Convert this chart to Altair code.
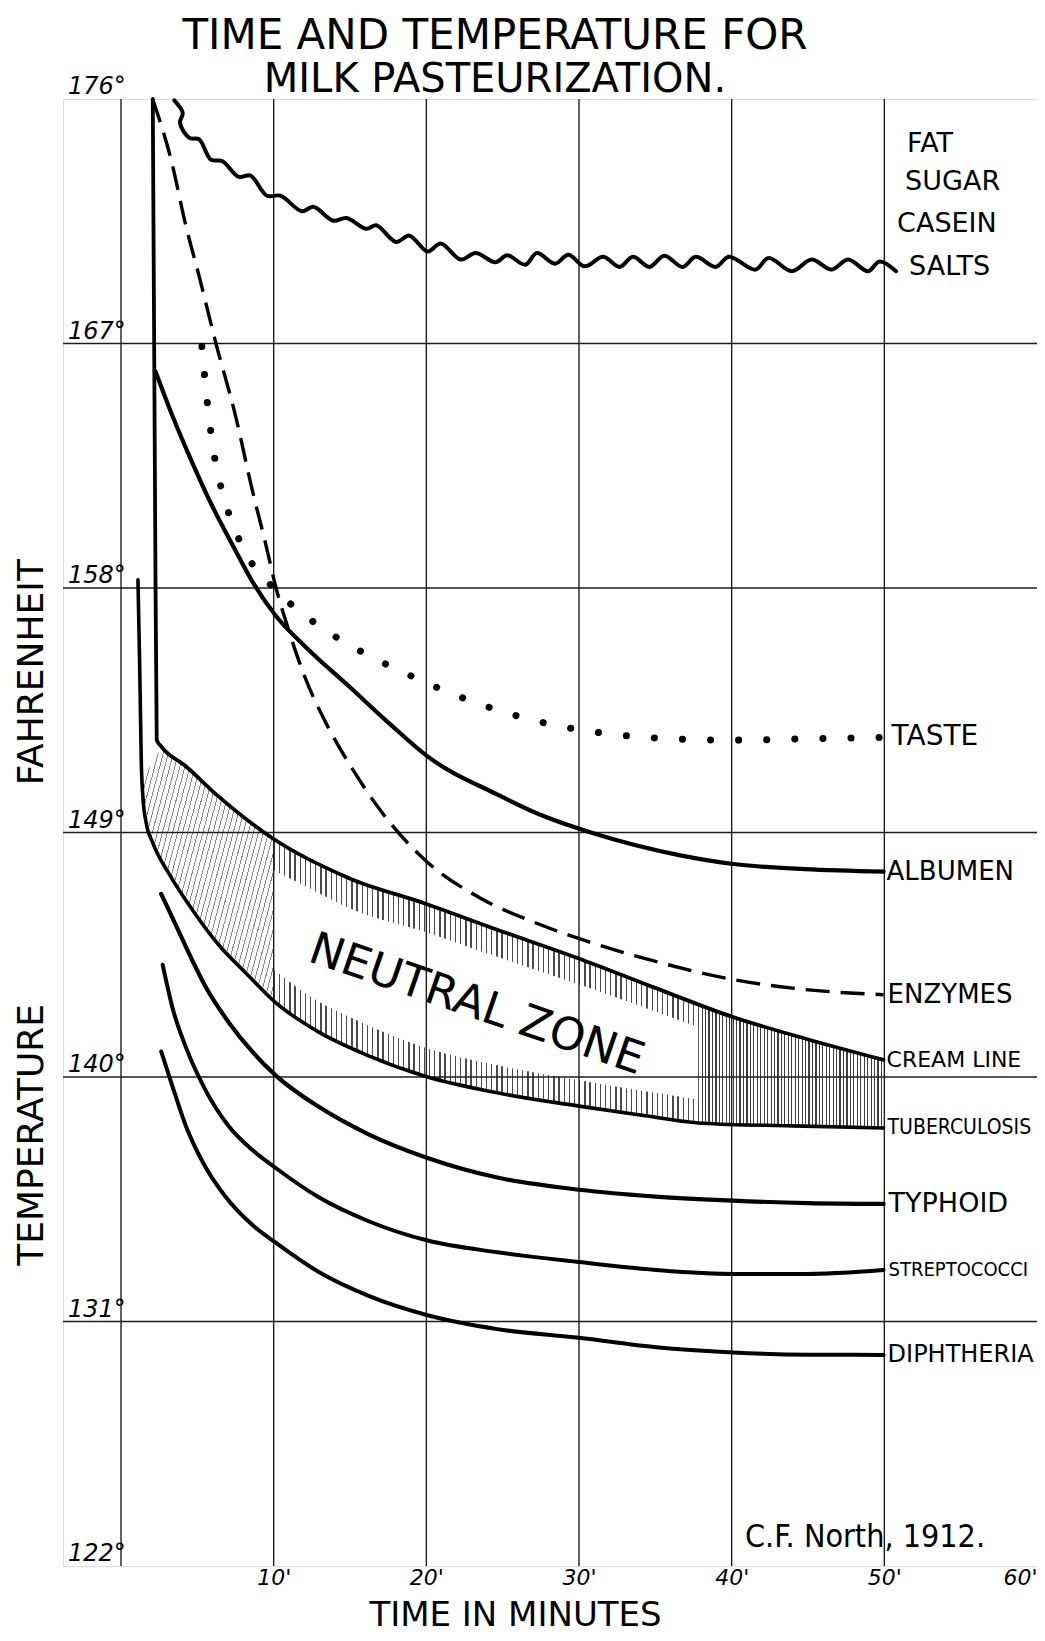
import altair as alt
import pandas as pd

# ----------------------------------------------------------------- data
X_TICKS = [10, 20, 30, 40, 50, 60]
X_GRID = [0, 10, 20, 30, 40, 50]
X_EDGE = -3.8                      # left frame of the sheet, in minutes
Y_TICKS = [122, 131, 140, 149, 158, 167, 176]
Y_GRID = [131, 140, 149, 158, 167]

# fat, sugar, casein, salts (wavy line: crests and troughs)
WAVY_MIN = [3.49, 4.04, 3.86, 4.47, 5.12, 5.88, 6.64, 7.72, 8.48, 9.56, 10.44, 11.84, 12.60, 13.90,
            14.77, 16.07, 16.72, 18.02, 18.89, 20.08, 20.95, 22.25, 23.23, 24.53, 25.29, 26.48,
            27.24, 28.43, 29.30, 30.38, 31.58, 32.66, 33.53, 34.61, 35.59, 36.78, 37.65, 38.95,
            39.82, 41.55, 42.42, 43.94, 45.24, 46.54, 47.63, 48.93, 49.69, 50.77]
WAVY_T = [175.95, 175.49, 175.12, 174.57, 174.51, 173.77, 173.71, 173.13, 173.18, 172.44, 172.44,
          171.87, 172.03, 171.52, 171.62, 171.22, 171.35, 170.74, 170.97, 170.39, 170.68, 170.09,
          170.33, 169.99, 170.25, 169.90, 170.33, 169.94, 170.27, 169.84, 170.19, 169.82, 170.19,
          169.82, 170.23, 169.82, 170.19, 169.82, 170.19, 169.72, 170.15, 169.66, 170.09, 169.72,
          170.09, 169.66, 170.02, 169.66]

TASTE_MIN = [5.30, 5.62, 6.03, 6.81, 7.51, 8.42, 9.89, 12.49, 15.64, 18.74, 22.04, 25.0, 28.0,
             31.0, 35.0, 40.0, 45.0, 49.95]
TASTE_T = [166.89, 164.99, 163.15, 161.19, 160.08, 159.04, 158.06, 156.80, 155.69, 154.83, 154.03,
           153.45, 153.0, 152.7, 152.48, 152.4, 152.45, 152.5]

ALB_MIN = [2.26, 3.38, 4.68, 5.99, 7.29, 8.59, 10.11, 12.06, 15.09, 17.70, 20.08, 24.64, 27.27,
           30.78, 36.72, 39.96, 44.8, 49.95]
ALB_T = [165.97, 164.32, 162.60, 161.00, 159.6, 158.25, 157.0, 155.85, 154.3, 152.95, 151.8,
         150.4, 149.7, 149.0, 148.15, 147.85, 147.65, 147.56]

ENZ_MIN = [2.08, 3.28, 4.26, 5.12, 6.21, 7.51, 8.59, 9.46, 10.11, 10.98, 12.06, 13.36, 15.09, 17.01,
           19.98, 23.49, 27.27, 30.78, 35.37, 39.96, 44.81, 49.95]
ENZ_T = [175.98, 173.77, 171.31, 169.47, 167.02, 164.32, 161.62, 159.66, 158.1, 156.45, 154.7,
         153.1, 151.4, 149.8, 147.95, 146.6, 145.65, 144.95, 144.2, 143.6, 143.22, 143.03]

CREAM_MIN = [2.08, 2.23, 2.34, 2.63, 4.26, 6.42, 10.0, 14.94, 19.95, 24.5, 30.24, 34.9, 39.96,
             44.9, 49.95]
CREAM_T = [176.0, 161.25, 152.41, 152.17, 151.43, 150.31, 148.76, 147.32, 146.38, 145.45, 144.31,
           143.3, 142.23, 141.4, 140.63]

TUB_MIN = [1.11, 1.22, 1.33, 1.45, 1.65, 2.08, 3.17, 4.68, 6.42, 8.16, 10.11, 12.93, 16.18, 19.98,
           24.64, 30.23, 34.0, 38.07, 44.0, 49.95]
TUB_T = [158.30, 155.24, 151.56, 150.2, 149.35, 148.62, 147.46, 146.15, 144.85, 143.84, 142.75,
         141.66, 140.79, 140.02, 139.42, 138.91, 138.6, 138.30, 138.2, 138.12]

TYP_MIN = [2.63, 3.60, 4.68, 5.56, 7.07, 8.59, 10.11, 12.93, 16.18, 20.08, 24.64, 30.01, 35.0,
           40.08, 45.0, 49.95]
TYP_T = [146.74, 145.58, 144.28, 143.3, 142.0, 140.94, 140.07, 138.91, 137.90, 137.02, 136.30,
         135.85, 135.6, 135.45, 135.36, 135.33]

STR_MIN = [2.73, 3.38, 4.26, 5.56, 7.07, 8.59, 10.11, 12.93, 16.18, 20.08, 24.64, 30.01, 35.05,
           40.08, 44.81, 49.95]
STR_T = [144.13, 142.53, 141.08, 139.49, 138.18, 137.32, 136.66, 135.58, 134.70, 133.98, 133.55,
         133.19, 132.90, 132.75, 132.75, 132.90]

DIP_MIN = [2.63, 3.38, 4.26, 5.34, 6.86, 8.59, 10.11, 12.93, 16.18, 20.08, 24.64, 30.01, 35.05,
           40.08, 45.0, 49.95]
DIP_T = [140.94, 139.64, 138.18, 136.88, 135.58, 134.56, 133.91, 132.83, 131.95, 131.23, 130.72,
         130.4, 130.05, 129.86, 129.78, 129.77]

# neutral zone (between cream line and tuberculosis)
NZ_MIN = [1.45, 1.65, 2.1, 2.63, 4.26, 6.42, 8.16, 10.0, 12.93, 14.94, 16.18, 19.98, 24.5, 30.2,
          37.8, 44.0, 50.0]
NZ_TOP = [150.6, 151.1, 151.6, 152.0, 151.43, 150.31, 149.56, 148.76, 147.9, 147.32, 147.09, 146.38,
          145.45, 144.32, 142.69, 141.58, 140.6]
NZ_BOT = [150.2, 149.35, 148.62, 148.03, 146.51, 144.85, 143.84, 142.8, 141.66, 141.12, 140.79,
          140.02, 139.45, 138.91, 138.32, 138.2, 138.12]
# unshaded middle of the zone, where the words are written
NZB_MIN = [10.0, 12.93, 14.94, 19.98, 24.5, 30.2, 37.8]
NZB_TOP = [147.61, 146.78, 146.22, 145.33, 144.45, 143.37, 141.84]
NZB_BOT = [143.95, 142.78, 142.22, 141.07, 140.45, 139.86, 139.17]

FAT_LINES = ["FAT", "SUGAR", "CASEIN", "SALTS"]

# ----------------------------------------------------------------- helpers
FONT = "DejaVu Sans"
NARROW = "Liberation Sans Narrow, DejaVu Sans Condensed, DejaVu Sans"
XS = alt.Scale(domain=[X_EDGE, 60], nice=False, zero=False)
YS = alt.Scale(domain=[122, 176], nice=False, zero=False)

XAXIS = alt.Axis(values=X_TICKS, labelExpr="datum.value + \"'\"", domain=False, ticks=False,
                 grid=False, labelFont=FONT, labelFontSize=22, labelFontStyle="italic",
                 labelColor="black", labelPadding=1, labelFlush=True, labelOverlap=False,
                 title="TIME IN MINUTES", titleFont=FONT, titleFontSize=34,
                 titleFontWeight="normal", titleColor="black", titleX=452, titleY=59,
                 titleAlign="center", titleBaseline="alphabetic")


def X(field="m"):
    return alt.X(f"{field}:Q", scale=XS, axis=XAXIS)


def Y(field="t"):
    return alt.Y(f"{field}:Q", scale=YS, axis=None)


def stripes(n, duty, dark, x2=1.0, y2=0.0):
    stops = []
    for k in range(n):
        a = round(k / n, 5)
        b = round((k + duty) / n, 5)
        c = round((k + 1) / n, 5)
        stops += [alt.GradientStop(color=dark, offset=a), alt.GradientStop(color=dark, offset=b),
                  alt.GradientStop(color="white", offset=b), alt.GradientStop(color="white", offset=c)]
    return alt.LinearGradient(gradient="linear", stops=stops, x1=0, y1=0, x2=x2, y2=y2)


nz = pd.DataFrame({"m": NZ_MIN, "top": NZ_TOP, "bot": NZ_BOT})


def band(flt, fill):
    return alt.Chart(nz).transform_filter(flt).mark_area(fill=fill, interpolate="monotone").encode(
        x=X(), y=alt.Y("top:Q", scale=YS, axis=None), y2=alt.Y2("bot"))


def curve(ms, ts, width=4.0, **kw):
    df = pd.DataFrame({"m": ms, "t": ts, "i": list(range(len(ms)))})
    opts = dict(color="black", strokeWidth=width, interpolate="monotone",
                strokeCap="round", strokeJoin="round")
    opts.update(kw)
    return alt.Chart(df).mark_line(**opts).encode(x=X(), y=Y(), order=alt.Order("i:Q"))


def end_label(s, ms, ts, size, dx=5, dy=0, font=FONT):
    df = pd.DataFrame({"m": [ms[-1]], "t": [ts[-1]], "s": [s]})
    return alt.Chart(df).mark_text(font=font, fontSize=size, align="left", baseline="middle",
                                   dx=dx, dy=dy, color="black").encode(x=X(), y=Y(), text="s:N")


# ----------------------------------------------------------------- layers
hatch_left = band("datum.m <= 10", stripes(39, 0.2, "#8a8a8a", 1.2, 0.61))
hatch_mid = band("datum.m >= 10 && datum.m <= 37.8", stripes(82, 0.26, "#4a4a4a"))
hatch_right = band("datum.m >= 37.8", stripes(54, 0.34, "#404040"))
blank = alt.Chart(pd.DataFrame({"m": NZB_MIN, "top": NZB_TOP, "bot": NZB_BOT})).mark_area(
    fill="white", interpolate="monotone").encode(
    x=X(), y=alt.Y("top:Q", scale=YS, axis=None), y2=alt.Y2("bot"))

vgrid = alt.Chart(pd.DataFrame({"m": X_GRID})).mark_rule(color="#1e1e1e", strokeWidth=1.4).encode(
    x=X())
hgrid = alt.Chart(pd.DataFrame({"t": Y_GRID})).mark_rule(color="#1e1e1e", strokeWidth=1.4).encode(
    y=Y())

wavy = curve(WAVY_MIN, WAVY_T, 4.0, interpolate="catmull-rom")
taste = curve(TASTE_MIN, TASTE_T, 7.0, strokeDash=[0.1, 28])
albumen = curve(ALB_MIN, ALB_T, 4.2)
enzymes = curve(ENZ_MIN, ENZ_T, 3.4, strokeDash=[24, 11], strokeCap="butt")
cream = curve(CREAM_MIN, CREAM_T, 3.8)
tuberc = curve(TUB_MIN, TUB_T, 3.6)
typhoid = curve(TYP_MIN, TYP_T, 4.2)
strep = curve(STR_MIN, STR_T, 4.0)
diph = curve(DIP_MIN, DIP_T, 4.0)

ylabels = alt.Chart(pd.DataFrame({"t": Y_TICKS, "s": [f"{v}°" for v in Y_TICKS]})).mark_text(
    font=FONT, fontSize=24, fontStyle="italic", align="left", baseline="alphabetic",
    dx=5, dy=-5, color="black").encode(
    x=alt.XDatum(X_EDGE, scale=XS, axis=XAXIS), y=Y(), text="s:N")

side = alt.Chart(pd.DataFrame({"t": [154.9, 137.87], "s": ["FAHRENHEIT", "TEMPERATURE"]})).mark_text(
    font=FONT, fontSize=36, angle=270, align="center", baseline="middle", color="black").encode(
    x=alt.value(-31), y=Y(), text="s:N")

fat_labels = [end_label(s, WAVY_MIN, WAVY_T, 27, dx=dx, dy=dy)
              for s, dx, dy in zip(FAT_LINES, [11, 9, 1, 13], [-127, -89, -47, -4])]

labels = [
    end_label("TASTE", TASTE_MIN, TASTE_T, 28, dx=8),
    end_label("ALBUMEN", ALB_MIN, ALB_T, 26, dx=3),
    end_label("ENZYMES", ENZ_MIN, ENZ_T, 26, dx=4),
    end_label("CREAM LINE", CREAM_MIN, CREAM_T, 22, dx=3),
    end_label("TUBERCULOSIS", TUB_MIN, TUB_T, 21, dx=4, font=NARROW),
    end_label("TYPHOID", TYP_MIN, TYP_T, 27, dx=5),
    end_label("STREPTOCOCCI", STR_MIN, STR_T, 20, dx=5, font=NARROW),
    end_label("DIPHTHERIA", DIP_MIN, DIP_T, 24, dx=4),
]

neutral = alt.Chart(pd.DataFrame({"m": [23.3], "t": [142.67], "s": ["NEUTRAL ZONE"]})).mark_text(
    font=FONT, fontSize=45, angle=19, align="center", baseline="middle", color="black").encode(
    x=X(), y=Y(), text="s:N")

signature = alt.Chart(pd.DataFrame({"m": [40.87], "t": [122.7], "s": ["C.F. North, 1912."]})).mark_text(
    font=NARROW, fontSize=32, align="left", baseline="alphabetic", color="black").encode(
    x=X(), y=Y(), text="s:N")

chart = alt.layer(
    hatch_left, hatch_mid, hatch_right, blank, vgrid, hgrid,
    wavy, taste, albumen, enzymes, cream, tuberc, typhoid, strep, diph,
    ylabels, side, *fat_labels, *labels, neutral, signature,
).properties(
    width=974, height=1467,
    padding={"left": 55, "top": 91, "right": 0, "bottom": 67},
    autosize=alt.AutoSizeParams(type="none"),
    title=alt.TitleParams(
        text="TIME AND TEMPERATURE FOR", subtitle="MILK PASTEURIZATION.",
        font=FONT, fontSize=42, fontWeight="normal", color="black",
        subtitleFont=FONT, subtitleFontSize=40, subtitleFontWeight="normal", subtitleColor="black",
        subtitlePadding=2, anchor="middle", frame="group", dx=-55, offset=-26),
).configure_view(stroke="black", strokeWidth=3).configure(background="white")

chart.save("out.html", embed_options={"renderer": "svg", "actions": False})
